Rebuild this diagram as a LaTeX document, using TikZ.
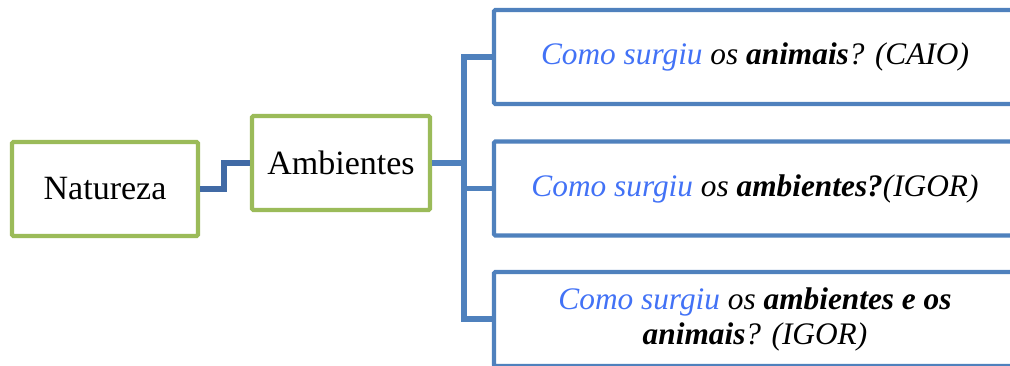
\documentclass[tikz,border=0pt]{standalone}
\usepackage{fontspec}
\setmainfont{Liberation Serif}
\definecolor{boxgreen}{RGB}{155,187,89}
\definecolor{lineblue}{RGB}{79,129,189}
\definecolor{linkdark}{RGB}{65,106,165}
\definecolor{askblue}{RGB}{66,114,246}
\newcommand{\como}{\textcolor{askblue}{Como surgiu}}

\tikzset{
  greenbox/.style={draw=boxgreen, line width=3.2pt, fill=white, rounded corners=1pt,
    minimum width=186*0.75pt, minimum height=94*0.75pt, inner sep=0pt,
    font=\fontsize{25.5}{27}\selectfont},
  bluebox/.style={draw=lineblue, line width=3.2pt, fill=white, rounded corners=1pt,
    minimum width=522*0.75pt, minimum height=94*0.75pt, inner sep=0pt,
    align=center, font=\fontsize{23.5}{26.3}\selectfont\itshape},
  link/.style={draw=lineblue, line width=3.8pt}
}

\begin{document}
\begin{tikzpicture}[x=0.75pt, y=-0.75pt]
  % Frame
  \useasboundingbox (0,0) rectangle (1010,365);
  \clip (0,0) rectangle (1010,365);

  % Left side
  \node[greenbox] (natureza) at (105,189) {Natureza};
  \node[greenbox, minimum width=178*0.75pt] (ambientes) at (341,163) {Ambientes};

  % Questions
  \node[bluebox] (animais) at (755,57) {\como{} os \textbf{animais}? (CAIO)};
  \node[bluebox] (ambq) at (755,188.5) {\como{} os \textbf{ambientes?}(IGOR)};
  \node[bluebox] (ambanim) at (755,319) {\como{} os \textbf{ambientes e os}\\ \textbf{animais}? (IGOR)};

  % Connectors
  \coordinate (trunk) at (464,163);
  \draw[link, draw=linkdark, line width=4.3pt] (natureza.east) -- ++(24,0) |- (ambientes.west);
  \draw[link] (ambientes.east) -- (trunk);
  \draw[link] (animais.west) -| (trunk) |- (ambanim.west);
  \draw[link] (trunk |- ambq.west) -- (ambq.west);

\end{tikzpicture}
\end{document}
